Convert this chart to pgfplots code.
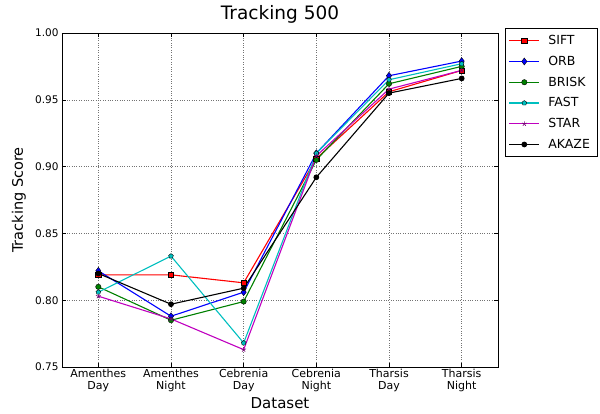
\documentclass[border=0pt]{standalone}
\usepackage{pgfplots}
\pgfplotsset{compat=1.18}
\usepackage{fontspec}
\setmainfont{DejaVu Sans}

\definecolor{mplgreen}{rgb}{0,0.5,0}
\definecolor{mplcyan}{rgb}{0,0.75,0.75}
\definecolor{mplmagenta}{rgb}{0.75,0,0.75}

\begin{document}
\begin{tikzpicture}[x=1pt,y=1pt]
\path[use as bounding box] (-62,-46) rectangle (538,367);
\begin{axis}[
  at={(0,0)}, anchor=south west,
  scale only axis,
  width=436pt, height=334pt,
  xmin=-0.5, xmax=5.5,
  ymin=0.75, ymax=1.0,
  xtick={0,1,2,3,4,5},
  xticklabels={{Amenthes\\Day},{Amenthes\\Night},{Cebrenia\\Day},{Cebrenia\\Night},{Tharsis\\Day},{Tharsis\\Night}},
  xticklabel style={align=center, font=\fontsize{11}{12}\selectfont, yshift=1pt},
  ytick={0.75,0.80,0.85,0.90,0.95,1.00},
  yticklabel style={font=\fontsize{10.5}{12}\selectfont,
    /pgf/number format/.cd, fixed, fixed zerofill, precision=2},
  /pgf/number format/assume math mode=true,
  tick align=inside,
  major tick length=4pt,
  tick style={black, line width=0.5pt},
  grid=major,
  grid style={black!55, dotted, line width=0.6pt},
  axis line style={black, line width=0.8pt},
  title={Tracking 500},
  title style={font=\fontsize{18.5}{20}\selectfont, at={(0.5,1)}, anchor=south, inner sep=3pt},
  xlabel={Dataset},
  xlabel style={font=\fontsize{15}{16}\selectfont, at={(0.5,0)}, anchor=base, yshift=-41.5pt},
  ylabel={Tracking Score},
  ylabel style={font=\fontsize{14.5}{16}\selectfont, at={(0,0.5)}, anchor=base, yshift=39pt},
  legend style={at={(1.016,1.015)}, anchor=north west,
    draw=black, line width=0.6pt,
    font=\fontsize{12.5}{13}\selectfont,
    row sep=3pt, inner sep=3.5pt,
    legend cell align=left,
    nodes={inner sep=3.5pt},
    /tikz/every odd column/.append style={column sep=5pt}},
  legend image code/.code={
    \draw[#1, mark=none] (0pt,0pt) -- (30pt,0pt);
    \draw[#1, only marks] plot coordinates {(15pt,0pt)};
  },
  every axis plot/.append style={line width=1.1pt},
]
\addplot[red, mark=square*, mark size=2.7pt, mark options={fill=red, draw=black, line width=0.4pt}]
  coordinates {(0,0.819) (1,0.819) (2,0.813) (3,0.906) (4,0.956) (5,0.972)};
\addlegendentry{SIFT}
\addplot[blue, mark=diamond*, mark size=3.5pt, mark options={fill=blue, draw=black, line width=0.4pt}]
  coordinates {(0,0.822) (1,0.788) (2,0.806) (3,0.910) (4,0.968) (5,0.979)};
\addlegendentry{ORB}
\addplot[mplgreen, mark=*, mark size=2.7pt, mark options={fill=mplgreen, draw=black, line width=0.4pt}]
  coordinates {(0,0.810) (1,0.785) (2,0.799) (3,0.905) (4,0.962) (5,0.975)};
\addlegendentry{BRISK}
\addplot[mplcyan, mark=pentagon*, mark size=2.5pt, mark options={fill=mplcyan, draw=black, line width=0.4pt}]
  coordinates {(0,0.806) (1,0.833) (2,0.768) (3,0.910) (4,0.965) (5,0.977)};
\addlegendentry{FAST}
\addplot[mplmagenta, mark=star, mark size=2.5pt, mark options={draw=mplmagenta!60!black, line width=0.6pt}]
  coordinates {(0,0.803) (1,0.786) (2,0.763) (3,0.908) (4,0.958) (5,0.972)};
\addlegendentry{STAR}
\addplot[black, mark=*, mark size=2.3pt, mark options={fill=black, draw=black}]
  coordinates {(0,0.820) (1,0.797) (2,0.809) (3,0.892) (4,0.955) (5,0.966)};
\addlegendentry{AKAZE}
\end{axis}
\end{tikzpicture}
\end{document}
